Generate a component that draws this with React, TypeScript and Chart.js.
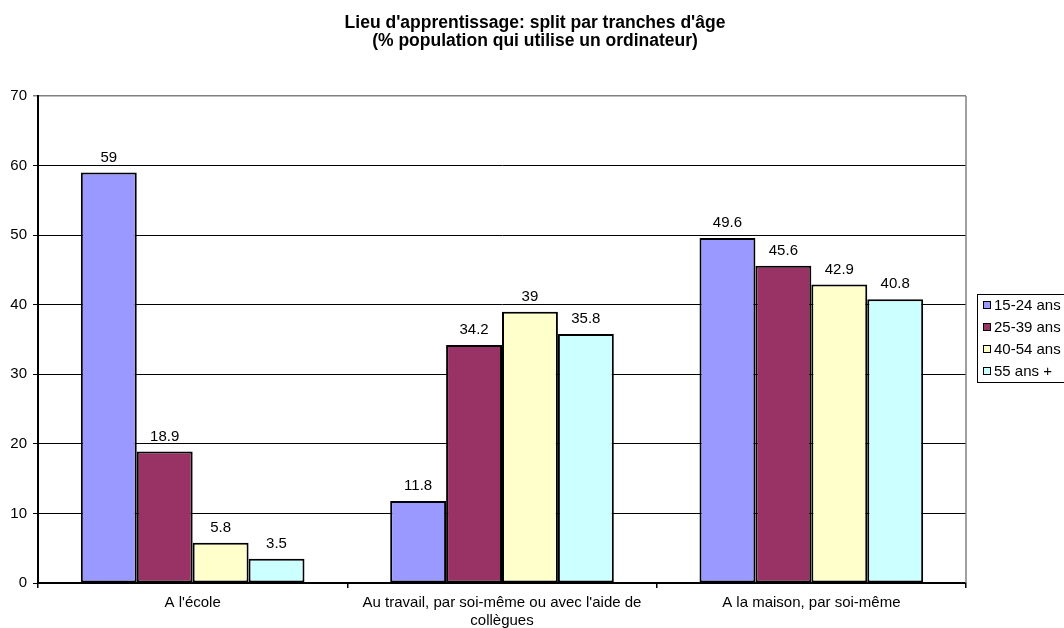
import React, { useEffect, useRef } from "react";
import { Chart, registerables } from "chart.js";

Chart.register(...registerables);

const titleLines = ["Lieu d'apprentissage: split par tranches d'âge", "(% population qui utilise un ordinateur)"];
const categories: (string | string[])[] = [
  "A l'école",
  ["Au travail, par soi-même ou avec l'aide de", "collègues"],
  "A la maison, par soi-même",
];
const seriesNames = ["15-24 ans", "25-39 ans", "40-54 ans", "55 ans +"];
const seriesColors = ["#9999FF", "#993366", "#FFFFCC", "#CCFFFF"];
const s1524 = [59, 11.8, 49.6];
const s2539 = [18.9, 34.2, 45.6];
const s4054 = [5.8, 39, 42.9];
const s55 = [3.5, 35.8, 40.8];
const seriesValues = [s1524, s2539, s4054, s55];

const FONT = "'Liberation Sans', Arial, sans-serif";

export default function App() {
  const ref = useRef<HTMLCanvasElement | null>(null);
  useEffect(() => {
    document.body.style.margin = "0";
    const canvas = ref.current!;
    const overlay = {
      id: "overlay",
      afterDatasetsDraw(chart: any) {
        const ctx = chart.ctx;
        ctx.save();
        ctx.font = `15px ${FONT}`;
        ctx.fillStyle = "#000";
        ctx.textAlign = "center";
        ctx.textBaseline = "middle";
        chart.data.datasets.forEach((ds: any, i: number) => {
          const meta = chart.getDatasetMeta(i);
          meta.data.forEach((el: any, j: number) => {
            ctx.fillText(String(ds.data[j]), el.x, el.y - 15);
          });
        });
        const a = chart.chartArea;
        ctx.strokeStyle = "#808080";
        ctx.lineWidth = 1.5;
        ctx.beginPath();
        ctx.moveTo(a.right, a.top);
        ctx.lineTo(a.right, a.bottom);
        ctx.stroke();
        ctx.restore();
      },
      afterDraw(chart: any) {
        const ctx = chart.ctx;
        ctx.save();
        ctx.font = `bold 17.5px ${FONT}`;
        ctx.fillStyle = "#000";
        ctx.textAlign = "center";
        ctx.textBaseline = "middle";
        ctx.fillText(titleLines[0], 535, 23);
        ctx.fillText(titleLines[1], 535, 41);
        ctx.strokeStyle = "#000";
        ctx.lineWidth = 1;
        ctx.strokeRect(977.5, 294.5, 100, 88);
        ctx.font = `15px ${FONT}`;
        ctx.textAlign = "left";
        seriesNames.forEach((n, i) => {
          const y = 305 + i * 22;
          ctx.fillStyle = seriesColors[i];
          ctx.fillRect(983, y - 4, 7, 7);
          ctx.strokeRect(983.5, y - 3.5, 7, 7);
          ctx.fillStyle = "#000";
          ctx.fillText(n, 994, y + 1);
        });
        ctx.restore();
      },
    };
    const chart = new Chart(canvas, {
      type: "bar",
      data: {
        labels: categories,
        datasets: seriesNames.map((n, i) => ({
          label: n,
          data: seriesValues[i],
          backgroundColor: seriesColors[i],
          borderColor: "#000",
          borderWidth: 2,
          borderSkipped: false,
          categoryPercentage: 0.723,
          barPercentage: 1,
        })),
      },
      options: {
        responsive: false,
        animation: false,
        layout: { padding: { top: 96, right: 98, left: 0, bottom: 0 } },
        plugins: { legend: { display: false }, title: { display: false }, tooltip: { enabled: false } },
        scales: {
          x: {
            afterFit(scale: any) {
              scale.height = 45;
            },
            grid: { drawOnChartArea: false, color: "#000", tickLength: 5, lineWidth: 1.5 },
            border: { display: true, color: "#000", width: 2 },
            ticks: { color: "#000", font: { family: FONT, size: 15, lineHeight: 1.2 }, padding: 6, maxRotation: 0, autoSkip: false },
          },
          y: {
            min: 0,
            max: 70,
            afterFit(scale: any) {
              scale.width = 38;
            },
            grid: {
              color: (c: any) => (c.tick && c.tick.value === 70 ? "#808080" : "#000"),
              lineWidth: (c: any) => (c.tick && c.tick.value === 70 ? 1.5 : 1),
              tickLength: 5,
            },
            border: { display: true, color: "#000", width: 2 },
            ticks: { stepSize: 10, color: "#000", font: { family: FONT, size: 15 }, padding: 6 },
          },
        },
      },
      plugins: [overlay],
    } as any);
    return () => chart.destroy();
  }, []);
  return (
    <div style={{ width: 1064, height: 628 }}>
      <canvas ref={ref} width={1064} height={628} style={{ display: "block" }} />
    </div>
  );
}
